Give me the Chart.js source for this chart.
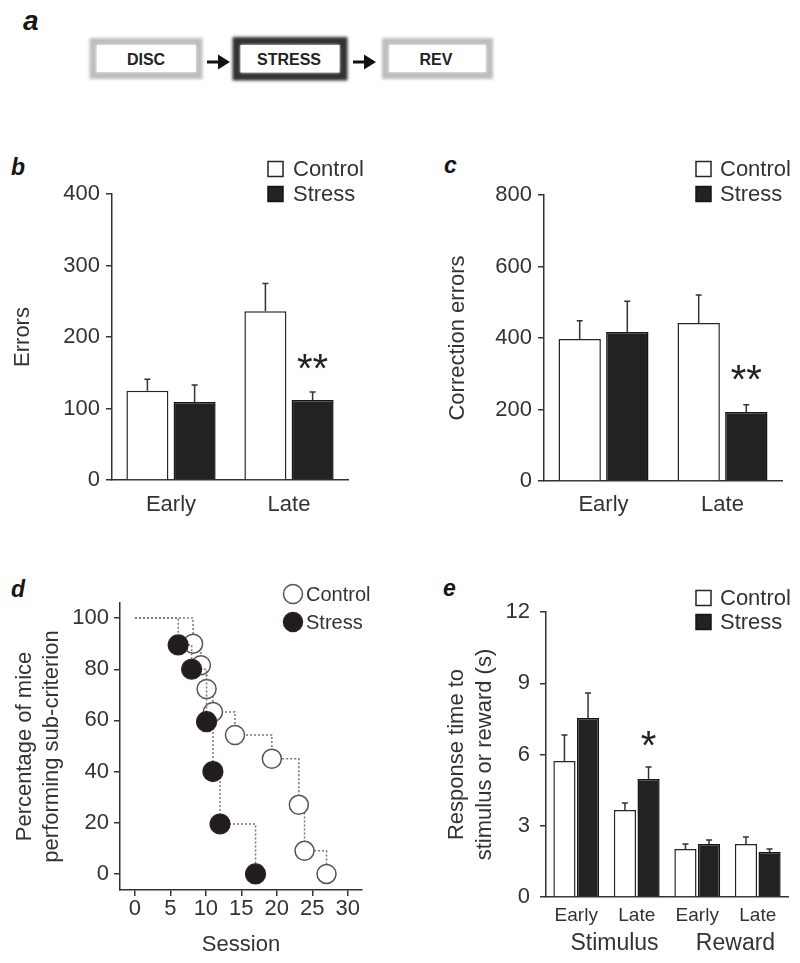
<!DOCTYPE html>
<html><head><meta charset="utf-8">
<script src="https://cdn.jsdelivr.net/npm/chart.js@4.4.1/dist/chart.umd.min.js"></script>
<style>
html,body{margin:0;padding:0;background:#fff;}
#fig{position:relative;width:800px;height:963px;overflow:hidden;font-family:'Liberation Sans',Arial,sans-serif;color:#333;background:#fff;}
canvas{position:absolute;}
.lbl{position:absolute;font-weight:bold;font-style:italic;line-height:1;color:#161616;font-family:'Liberation Sans',Arial,sans-serif;}
svg{position:absolute;left:0;top:0;}
</style></head><body>
<div id="fig">
<svg width="520" height="100" viewBox="0 0 520 100">
  <defs><filter id="soft" x="-20%" y="-40%" width="140%" height="180%"><feGaussianBlur stdDeviation="1.4"/></filter></defs>
  <rect x="93" y="41.5" width="106" height="34" fill="none" stroke="#bdbdbd" stroke-width="7" filter="url(#soft)"/>
  <rect x="97" y="45" width="99" height="27" fill="#fff"/>
  <text x="146" y="65" text-anchor="middle" font-family="Liberation Sans, Arial, sans-serif" font-weight="bold" font-size="16" fill="#222">DISC</text>
  <rect x="236.5" y="41" width="107" height="35.5" fill="none" stroke="#333" stroke-width="8" filter="url(#soft)"/>
  <rect x="240.5" y="45" width="99" height="27.5" fill="#fff"/>
  <text x="289" y="65" text-anchor="middle" font-family="Liberation Sans, Arial, sans-serif" font-weight="bold" font-size="16" fill="#222">STRESS</text>
  <rect x="385.5" y="41.5" width="104" height="34" fill="none" stroke="#bdbdbd" stroke-width="7" filter="url(#soft)"/>
  <rect x="389.5" y="45" width="96" height="27" fill="#fff"/>
  <text x="436" y="65" text-anchor="middle" font-family="Liberation Sans, Arial, sans-serif" font-weight="bold" font-size="16" fill="#222">REV</text>
  <line x1="207" y1="62" x2="220" y2="62" stroke="#111" stroke-width="3"/>
  <polygon points="218,54.5 230,62 218,69.5" fill="#111"/>
  <line x1="353" y1="62" x2="366" y2="62" stroke="#111" stroke-width="3"/>
  <polygon points="364,54.5 376,62 364,69.5" fill="#111"/>
</svg>
<div class="lbl" style="left:23px;top:7px;font-size:28px">a</div>
<div class="lbl" style="left:11px;top:156px;font-size:23px">b</div>
<div class="lbl" style="left:444px;top:154px;font-size:23px">c</div>
<div class="lbl" style="left:11px;top:578px;font-size:23px">d</div>
<div class="lbl" style="left:443px;top:577px;font-size:23px">e</div>
<canvas id="cb" width="400" height="400" style="left:0;top:140px"></canvas>
<canvas id="cc" width="400" height="400" style="left:400px;top:140px"></canvas>
<canvas id="cd" width="400" height="403" style="left:0;top:560px"></canvas>
<canvas id="ce" width="400" height="403" style="left:400px;top:560px"></canvas>
</div>
<script>
// ---------- DATA ----------
const seriesNames = ['Control', 'Stress'];
const phaseLabels = ['Early', 'Late'];

// panel b : errors
const bControl = [125, 236];
const bControlSem = [16, 39];
const bStress = [109, 112];
const bStressSem = [24, 11];
const bStressSig = ['', '**'];
const bYTicks = [0, 100, 200, 300, 400];

// panel c : correction errors
const cControl = [397, 442];
const cControlSem = [51, 78];
const cStress = [417, 193];
const cStressSem = [86, 20];
const cStressSig = ['', '**'];
const cYTicks = [0, 200, 400, 600, 800];

// panel d : percentage of mice performing sub-criterion vs session
const dControlSession = [0, 8.2, 9.3, 10.1, 11.0, 14.1, 19.3, 23.1, 23.9, 27.0];
const dControlPct     = [100, 90, 81.6, 72.3, 63.3, 54.3, 45, 27, 9, 0];
const dStressSession  = [0, 6.1, 8.0, 10.1, 11.0, 12.0, 17.0];
const dStressPct      = [100, 89.5, 80, 59.5, 40, 19.5, 0];
const dXTicks = [0, 5, 10, 15, 20, 25, 30];
const dYTicks = [0, 20, 40, 60, 80, 100];

// panel e : response time (s)
const eCategories = ['Early', 'Late', 'Early', 'Late'];
const eGroups = ['Stimulus', 'Reward'];
const eControl = [5.73, 3.66, 2.02, 2.23];
const eControlSem = [1.09, 0.30, 0.21, 0.30];
const eStress = [7.54, 4.97, 2.23, 1.90];
const eStressSem = [1.05, 0.50, 0.17, 0.12];
const eStressSig = ['', '*', '', ''];
const eYTicks = [0, 3, 6, 9, 12];

// ---------- STYLE / HELPERS ----------
const FONT = "'Liberation Sans', Arial, sans-serif";
Chart.defaults.font.family = FONT;
Chart.defaults.color = '#333';
Chart.defaults.animation = false;
Chart.defaults.plugins.legend.display = false;
Chart.defaults.plugins.tooltip.enabled = false;
const AX = '#333';
const CONTROL_FILL = '#ffffff', STRESS_FILL = '#222222', BAR_EDGE = '#262626';

const fixW = w => s => { s.width = w; };
const fixH = h => s => { s.height = h; };
const useTicks = vals => s => { s.ticks = vals.map(v => ({ value: v })); };
const NO_GRID = { display: false, drawTicks: false, tickLength: 0 };

const errorBars = {
  id: 'errorBars',
  afterDatasetsDraw(chart, args, o) {
    const ctx = chart.ctx, ys = chart.scales.y;
    chart.data.datasets.forEach((ds, di) => {
      if (!ds.errors) return;
      const meta = chart.getDatasetMeta(di);
      meta.data.forEach((bar, i) => {
        const top = ys.getPixelForValue(ds.data[i] + ds.errors[i]);
        ctx.save();
        ctx.strokeStyle = o.color; ctx.lineWidth = o.width;
        ctx.beginPath();
        ctx.moveTo(bar.x, bar.y); ctx.lineTo(bar.x, top);
        ctx.moveTo(bar.x - o.cap / 2, top); ctx.lineTo(bar.x + o.cap / 2, top);
        ctx.stroke();
        if (ds.marks && ds.marks[i]) {
          ctx.fillStyle = o.markColor;
          ctx.font = o.markFont;
          ctx.textAlign = 'center'; ctx.textBaseline = 'alphabetic';
          ctx.fillText(ds.marks[i], bar.x, top - o.markGap);
        }
        ctx.restore();
      });
    });
  }
};

const panelLegend = {
  id: 'panelLegend',
  afterDraw(chart, args, o) {
    if (!o || !o.x) return;
    const ctx = chart.ctx;
    chart.data.datasets.forEach((ds, i) => {
      const y = o.y + i * o.gap;
      ctx.save();
      ctx.lineWidth = o.lineWidth;
      if (o.shape === 'circle') {
        ctx.beginPath(); ctx.arc(o.x, y, o.size, 0, Math.PI * 2);
        ctx.fillStyle = ds.pointBackgroundColor; ctx.fill();
        ctx.strokeStyle = ds.pointBorderColor; ctx.stroke();
      } else {
        ctx.fillStyle = ds.backgroundColor;
        ctx.fillRect(o.x, y - o.size / 2, o.size, o.size);
        ctx.strokeStyle = ds.borderColor;
        ctx.strokeRect(o.x, y - o.size / 2, o.size, o.size);
      }
      ctx.fillStyle = '#333';
      ctx.font = o.font;
      ctx.textAlign = 'left'; ctx.textBaseline = 'middle';
      ctx.fillText(ds.label, o.textX, y + 1);
      ctx.restore();
    });
  }
};

function yAxis(ticks, width, title, titlePad, tickPad, extra) {
  return Object.assign({
    min: ticks[0], max: ticks[ticks.length - 1],
    afterBuildTicks: useTicks(ticks),
    afterFit: fixW(width),
    grid: { display: true, drawOnChartArea: false, drawTicks: true, tickLength: 6, color: AX, lineWidth: 1.5 },
    border: { display: true, color: AX, width: 1.5 },
    ticks: { font: { size: 22 }, color: '#333', padding: tickPad },
    title: { display: true, text: title, font: { size: 22 }, color: '#333', padding: { top: titlePad } }
  }, extra || {});
}

function barDatasets(control, controlSem, stress, stressSem, stressSig, catPct, barPct) {
  return [
    { label: seriesNames[0], data: control, errors: controlSem, backgroundColor: CONTROL_FILL, borderColor: BAR_EDGE, borderWidth: 1.5, categoryPercentage: catPct, barPercentage: barPct },
    { label: seriesNames[1], data: stress, errors: stressSem, marks: stressSig, backgroundColor: STRESS_FILL, borderColor: '#151515', borderWidth: 1.5, categoryPercentage: catPct, barPercentage: barPct }
  ];
}

// ---------- PANEL b ----------
new Chart(document.getElementById('cb'), {
  type: 'bar',
  data: { labels: phaseLabels, datasets: barDatasets(bControl, bControlSem, bStress, bStressSem, bStressSig, 0.8, 0.89) },
  options: {
    responsive: false,
    layout: { padding: { left: 0, right: 52, top: 54, bottom: 0 } },
    scales: {
      x: { afterFit: fixH(60), grid: NO_GRID, border: { display: true, color: AX, width: 1.5 },
           ticks: { font: { size: 22 }, color: '#333', padding: 12 } },
      y: yAxis(bYTicks, 112, 'Errors', 10, 6)
    },
    plugins: {
      errorBars: { color: '#333', width: 1.5, cap: 6, markFont: '40px ' + FONT, markColor: '#222', markGap: 10 },
      panelLegend: { x: 268, y: 29, gap: 25, size: 15, shape: 'square', textX: 293, font: '22px ' + FONT, lineWidth: 1.5 }
    }
  },
  plugins: [errorBars, panelLegend]
});

// ---------- PANEL c ----------
new Chart(document.getElementById('cc'), {
  type: 'bar',
  data: { labels: phaseLabels, datasets: barDatasets(cControl, cControlSem, cStress, cStressSem, cStressSig, 0.8, 0.89) },
  options: {
    responsive: false,
    layout: { padding: { left: 0, right: 18, top: 55, bottom: 0 } },
    scales: {
      x: { afterFit: fixH(59), grid: NO_GRID, border: { display: true, color: AX, width: 1.5 },
           ticks: { font: { size: 22 }, color: '#333', padding: 11 } },
      y: yAxis(cYTicks, 144, 'Correction errors', 45, 6)
    },
    plugins: {
      errorBars: { color: '#333', width: 1.5, cap: 6, markFont: '40px ' + FONT, markColor: '#222', markGap: 12 },
      panelLegend: { x: 296, y: 29, gap: 25, size: 15, shape: 'square', textX: 320, font: '22px ' + FONT, lineWidth: 1.5 }
    }
  },
  plugins: [errorBars, panelLegend]
});

// ---------- PANEL d ----------
const toPts = (xs, ys) => xs.map((x, i) => ({ x, y: ys[i] }));
new Chart(document.getElementById('cd'), {
  type: 'line',
  data: {
    datasets: [
      { label: seriesNames[0], data: toPts(dControlSession, dControlPct), stepped: true, order: 1,
        borderColor: '#777', borderWidth: 1.5, borderDash: [2, 2], fill: false,
        pointRadius: ctx => (ctx.dataIndex === 0 ? 0 : 9.5), pointBackgroundColor: '#ffffff', pointBorderColor: '#555', pointBorderWidth: 1.5 },
      { label: seriesNames[1], data: toPts(dStressSession, dStressPct), stepped: true, order: 0,
        borderColor: '#777', borderWidth: 1.5, borderDash: [2, 2], fill: false,
        pointRadius: ctx => (ctx.dataIndex === 0 ? 0 : 10), pointBackgroundColor: '#1e1e1e', pointBorderColor: '#3a1c1c', pointBorderWidth: 1.2 }
    ]
  },
  options: {
    responsive: false,
    clip: false,
    layout: { padding: { left: 0, right: 38, top: 43, bottom: 0 } },
    scales: {
      x: { type: 'linear', min: -2.1, max: 32, afterBuildTicks: useTicks(dXTicks), afterFit: fixH(73),
           grid: { display: true, drawOnChartArea: false, drawTicks: true, tickLength: 6, color: AX, lineWidth: 1.5 },
           border: { display: true, color: AX, width: 1.5 },
           ticks: { font: { size: 22 }, color: '#333', padding: 0 },
           title: { display: true, text: 'Session', font: { size: 22 }, color: '#333', padding: { bottom: 5 } } },
      y: yAxis(dYTicks, 120, ['Percentage of mice', 'performing sub-criterion'], 12, 5,
           { min: -6.3, max: 105.9 })
    },
    plugins: {
      panelLegend: { x: 293, y: 34, gap: 28, size: 9.5, shape: 'circle', textX: 306, font: '20px ' + FONT, lineWidth: 1.5 }
    }
  },
  plugins: [panelLegend]
});

// ---------- PANEL e ----------
const eYAxis = yAxis(eYTicks, 146, ['Response time to', 'stimulus or reward (s)'], 43, 10);
eYAxis.title.font = { size: 22, lineHeight: 1.27 };
new Chart(document.getElementById('ce'), {
  type: 'bar',
  data: { labels: eCategories, datasets: barDatasets(eControl, eControlSem, eStress, eStressSem, eStressSig, 0.78, 0.94) },
  options: {
    responsive: false,
    layout: { padding: { left: 0, right: 12, top: 52, bottom: 0 } },
    scales: {
      x: { weight: 0, afterFit: fixH(33), grid: NO_GRID, border: { display: true, color: AX, width: 1.5 },
           ticks: { font: { size: 19 }, color: '#333', padding: 7 } },
      x2: { type: 'category', position: 'bottom', weight: 1, labels: eGroups, offset: true, afterFit: fixH(33),
            grid: NO_GRID, border: { display: false },
            ticks: { font: { size: 23 }, color: '#333', padding: 0, labelOffset: 8 } },
      y: eYAxis
    },
    plugins: {
      errorBars: { color: '#333', width: 1.5, cap: 6, markFont: '40px ' + FONT, markColor: '#222', markGap: 8 },
      panelLegend: { x: 296, y: 38, gap: 24, size: 15, shape: 'square', textX: 320, font: '22px ' + FONT, lineWidth: 1.5 }
    }
  },
  plugins: [errorBars, panelLegend]
});
</script>
</body></html>
